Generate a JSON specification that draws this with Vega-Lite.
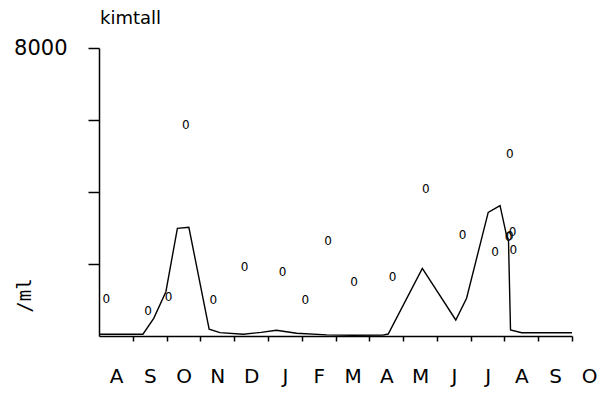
{
  "$schema": "https://vega.github.io/schema/vega-lite/v6.json",
  "width": 473,
  "height": 288,
  "autosize": "none",
  "padding": {"left": 99, "top": 48, "right": 34, "bottom": 58},
  "background": "white",
  "config": {"view": {"stroke": null}, "font": "DejaVu Sans"},
  "title": {"text": "kimtall", "anchor": "start", "frame": "group", "font": "DejaVu Sans", "fontSize": 18, "fontWeight": "normal", "color": "black", "offset": 9, "dx": 1},
  "datasets": {
    "line": [
      {"month": 0, "count": 50}, {"month": 1.3, "count": 50}, {"month": 1.62, "count": 490}, {"month": 1.98, "count": 1230},
      {"month": 2.32, "count": 2990}, {"month": 2.66, "count": 3020}, {"month": 3.26, "count": 190}, {"month": 3.58, "count": 95},
      {"month": 4.27, "count": 50}, {"month": 4.8, "count": 100}, {"month": 5.25, "count": 160}, {"month": 5.85, "count": 75},
      {"month": 6.74, "count": 30}, {"month": 7.5, "count": 20}, {"month": 8.4, "count": 25}, {"month": 8.56, "count": 55},
      {"month": 9.57, "count": 1880}, {"month": 10.56, "count": 445}, {"month": 10.88, "count": 1050}, {"month": 11.52, "count": 3435},
      {"month": 11.87, "count": 3620}, {"month": 12.07, "count": 2760}, {"month": 12.12, "count": 2650}, {"month": 12.18, "count": 170},
      {"month": 12.51, "count": 92}, {"month": 14, "count": 92}
    ],
    "pts": [
      {"month": 0.22, "count": 1020}, {"month": 1.45, "count": 700}, {"month": 2.06, "count": 1075}, {"month": 2.57, "count": 5870},
      {"month": 3.38, "count": 1000}, {"month": 4.31, "count": 1925}, {"month": 5.43, "count": 1780}, {"month": 6.11, "count": 1000},
      {"month": 6.78, "count": 2650}, {"month": 7.55, "count": 1510}, {"month": 8.69, "count": 1650}, {"month": 9.67, "count": 4075},
      {"month": 10.76, "count": 2805}, {"month": 11.72, "count": 2340}, {"month": 12.16, "count": 5045}, {"month": 12.24, "count": 2900},
      {"month": 12.16, "count": 2780}, {"month": 12.12, "count": 2760}, {"month": 12.26, "count": 2390}
    ]
  },
  "layer": [
    {
      "data": {"name": "line"},
      "mark": {"type": "line", "color": "black", "strokeWidth": 1.4},
      "encoding": {
        "x": {
          "field": "month", "type": "quantitative",
          "scale": {"domain": [0, 14], "nice": false, "zero": false},
          "axis": {
            "title": null, "grid": false, "tickCount": 30,
            "values": [0, 1, 2, 3, 4, 5, 6, 7, 8, 9, 10, 11, 12, 13, 14],
            "labelExpr": "['A','S','O','N','D','J','F','M','A','M','J','J','A','S','O'][datum.value]",
            "labelOffset": 17, "labelPadding": 25, "labelFlush": false, "labelOverlap": false, "labelBound": false,
            "labelFont": "DejaVu Sans", "labelFontSize": 20, "labelColor": "black",
            "tickSize": 5, "tickWidth": 1.5,
            "tickColor": {"condition": {"test": "datum.value == 0", "value": "transparent"}, "value": "black"},
            "domainColor": "black", "domainWidth": 1.5
          }
        },
        "y": {
          "field": "count", "type": "quantitative",
          "scale": {"domain": [0, 8000], "nice": false},
          "axis": {
            "title": "/ml", "titleFont": "DejaVu Sans Mono", "titleFontSize": 19, "titleFontWeight": "normal", "titleColor": "black",
            "titleAngle": -90, "titleX": -75, "titleY": 247, "titleAlign": "center", "titleBaseline": "middle",
            "grid": false, "values": [2000, 4000, 6000, 8000], "tickCount": 10,
            "labelExpr": "datum.value == 8000 ? '8000' : ''",
            "labelFont": "DejaVu Sans", "labelFontSize": 21, "labelColor": "black", "labelPadding": 21, "labelFlush": false,
            "tickSize": 11, "tickWidth": 1.5, "tickColor": "black",
            "domainColor": "black", "domainWidth": 1.5
          }
        }
      }
    },
    {
      "data": {"name": "pts"},
      "mark": {"type": "text", "text": "0", "font": "DejaVu Sans", "fontSize": 12, "baseline": "middle", "align": "center", "fill": "black"},
      "encoding": {
        "x": {"field": "month", "type": "quantitative"},
        "y": {"field": "count", "type": "quantitative"}
      }
    }
  ]
}
